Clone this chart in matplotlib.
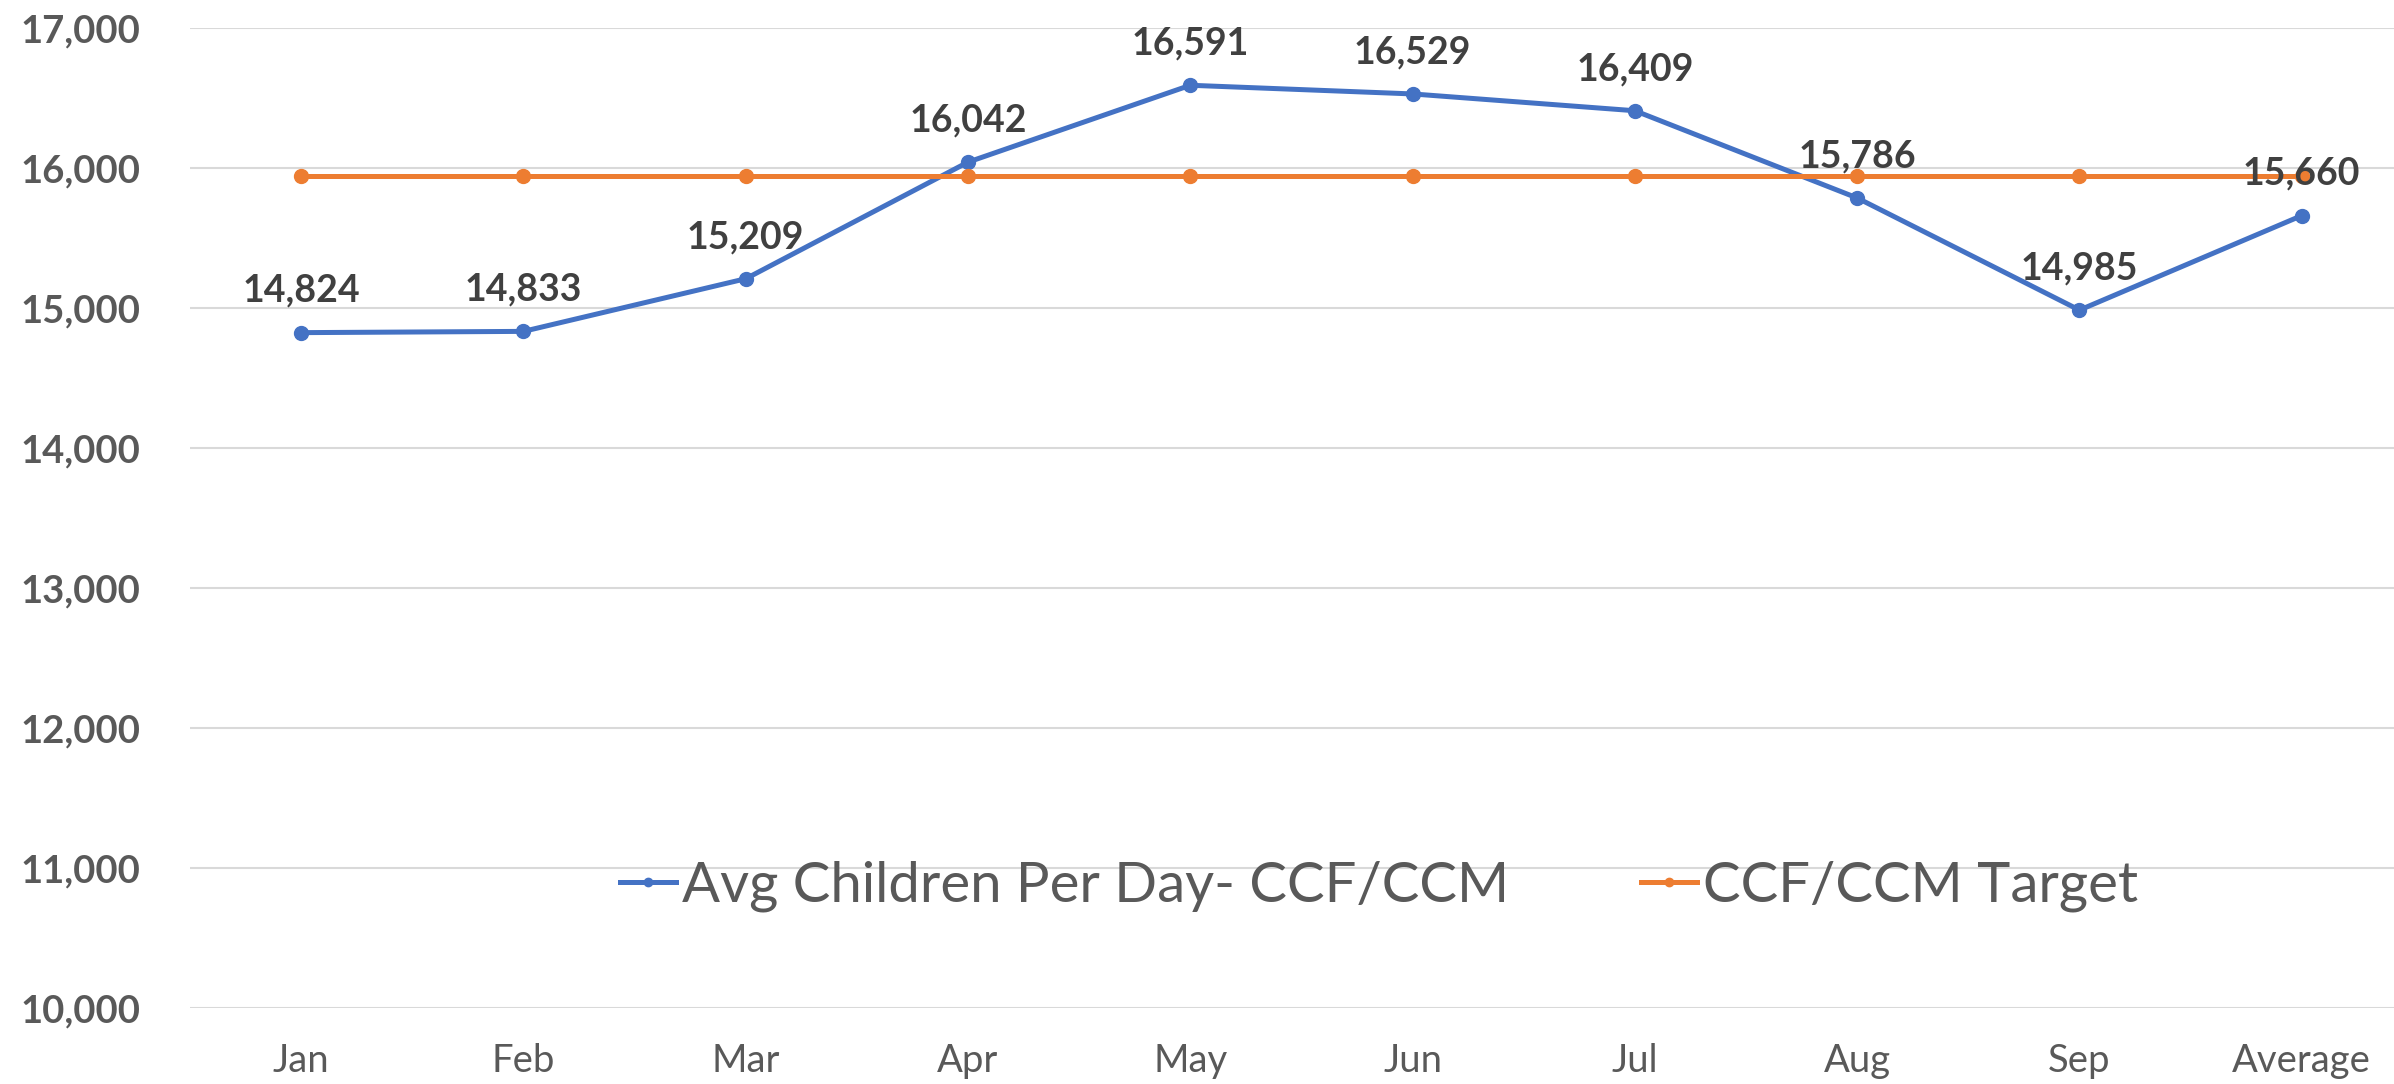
import numpy as np
import matplotlib.pyplot as plt

plt.rcParams['font.family'] = ['Lato', 'DejaVu Sans']

months = ['Jan', 'Feb', 'Mar', 'Apr', 'May', 'Jun', 'Jul', 'Aug', 'Sep', 'Average']
avg_children = [14824, 14833, 15209, 16042, 16591, 16529, 16409, 15786, 14985, 15660]
target = [15943] * len(months)

blue = '#4472C4'
orange = '#ED7D31'

fig = plt.figure(figsize=(23.94, 10.84), dpi=100)
ax = fig.add_axes([190/2394, 1 - 1008/1084, 1 - 190/2394, (1008 - 28)/1084])

x = np.arange(len(months))
ax.plot(x, avg_children, color=blue, lw=3.6, marker='o', ms=10, label='Avg Children Per Day- CCF/CCM', zorder=3)
ax.plot(x, target, color=orange, lw=3.6, marker='o', ms=10, label='CCF/CCM Target', zorder=3)

# value labels above the blue points
for xi, v in zip(x, avg_children):
    ax.annotate(f'{v:,}', (xi, v), xytext=(0, 30), textcoords='offset points',
                ha='center', va='center', fontsize=27, fontweight='bold', color='#404040', zorder=4)

ax.set_xlim(-0.5, 9.415)
ax.set_ylim(10000, 17000)
ax.set_yticks(np.arange(10000, 17001, 1000))
ax.set_yticklabels([f'{t:,}' for t in range(10000, 17001, 1000)])
ax.set_xticks(x)
ax.set_xticklabels(months)

ax.grid(axis='y', color='#D9D9D9', lw=1.5, zorder=0)
for s in ax.spines.values():
    s.set_visible(False)
ax.tick_params(axis='y', length=0, pad=36, labelsize=27.5, labelcolor='#595959')
ax.tick_params(axis='x', length=0, pad=25, labelsize=27.5, labelcolor='#595959')
for lab in ax.get_yticklabels():
    lab.set_fontweight('bold')

leg = ax.legend(loc='center', bbox_to_anchor=(1379/2394, 1 - 886/1084), bbox_transform=fig.transFigure,
                ncol=2, frameon=False, fontsize=40.5, handlelength=1.0, handletextpad=0.1,
                columnspacing=2.35, labelcolor='#595959', markerscale=0.6)

fig.savefig('out.png', dpi=100)
